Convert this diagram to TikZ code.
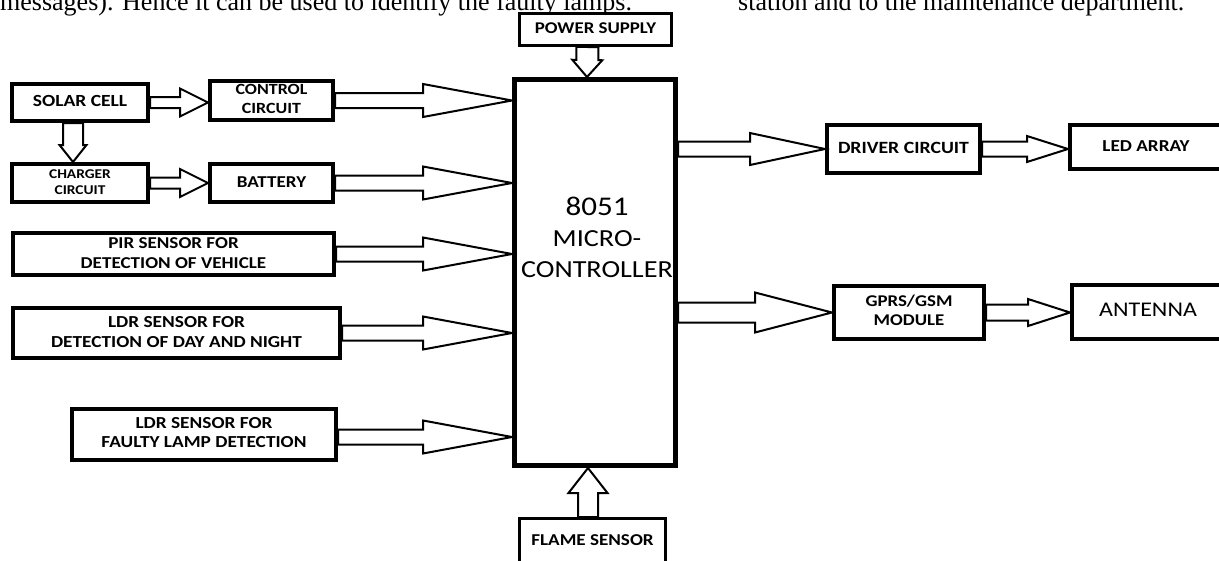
\documentclass[tikz,border=0pt]{standalone}
\usepackage{fontspec}
\usepackage{graphicx}
\usetikzlibrary{calc}
\newfontfamily\lblfont{Carlito}
\newfontfamily\refserif{Liberation Serif}
\newcommand\lbl[3]{\scalebox{1.15}[1]{\lblfont\bfseries\fontsize{#1}{#2}\selectfont\begin{tabular}{@{}c@{}}#3\end{tabular}}}
\newcommand\lblreg[3]{\scalebox{1.15}[1]{\lblfont\fontsize{#1}{#2}\selectfont\begin{tabular}{@{}c@{}}#3\end{tabular}}}
\newcommand\barrow[5]{%
  \path (#1) coordinate (bA) (#2) coordinate (bB);
  \path ($(bB)!#3!(bA)$) coordinate (bH);
  \draw[blockarr] ($(bA)!#4!90:(bB)$) -- ($(bH)!#4!-90:(bA)$) -- ($(bH)!#5!-90:(bA)$) -- (bB)
    -- ($(bH)!#5!90:(bA)$) -- ($(bH)!#4!90:(bA)$) -- ($(bA)!#4!-90:(bB)$) -- cycle;
}
\tikzset{
  blk/.style={draw, line width=4pt, fill=white, inner sep=0pt},
  thinblk/.style={draw, line width=3pt, fill=white, inner sep=0pt},
  blockarr/.style={draw, line width=2pt, fill=white, line join=miter},
  reftext/.style={inner sep=0pt, anchor=base west, font=\refserif\fontsize{26}{30}\selectfont},
}
\begin{document}
\begin{tikzpicture}[x=1pt, y=-1pt]
\useasboundingbox (0,0) rectangle (1219,560);
\clip (0,0) rectangle (1219,560);
\fill[white] (0,0) rectangle (1219,560);

\node[reftext] (t1) at (0,10) {messages). Hence it can be used to identify the faulty lamps.};
\node[reftext] (t2) at (738,10) {station and to the maintenance department.};

% left column
\node[blk, minimum width=136, minimum height=37] (solar) at (80,102.5) {\lbl{17}{20}{SOLAR CELL}};
\node[blk, minimum width=123, minimum height=39] (control) at (271.5,100.5) {\lbl{15.6}{19}{CONTROL\\CIRCUIT}};
\node[blk, minimum width=136, minimum height=38] (charger) at (80,183) {\lbl{13.4}{16}{CHARGER\\CIRCUIT}};
\node[blk, minimum width=123, minimum height=38] (battery) at (271.5,183) {\lbl{16.6}{20}{BATTERY}};
\node[blk, minimum width=321, minimum height=42] (pir) at (173.5,254) {\lbl{16.6}{20}{PIR SENSOR FOR\\DETECTION OF VEHICLE}};
\node[blk, minimum width=327, minimum height=50] (ldra) at (176.5,333) {\lbl{16.8}{20}{LDR SENSOR FOR\\DETECTION OF DAY AND NIGHT}};
\node[blk, minimum width=264, minimum height=51] (ldrb) at (204,434.5) {\lbl{16.8}{19}{LDR SENSOR FOR\\FAULTY LAMP DETECTION}};

% centre
\node[draw, line width=5pt, fill=white, inner sep=0pt, minimum width=161, minimum height=386] (mcu) at (595,272.5) {};
\node[inner sep=0pt] (mcutext) at (597,240) {\lblreg{24.5}{31}{\fontsize{27}{31}\selectfont 8051\\MICRO-\\CONTROLLER}};
\node[thinblk, minimum width=152, minimum height=32] (power) at (595.5,29.5) {\lbl{16.4}{20}{POWER SUPPLY}};
\node[thinblk, minimum width=146, minimum height=45] (flame) at (592.5,541) {\lbl{16.6}{20}{FLAME SENSOR}};

% right
\node[blk, minimum width=153, minimum height=48] (driver) at (903.5,149) {\lbl{17.2}{20}{DRIVER CIRCUIT}};
\node[blk, minimum width=152, minimum height=44] (led) at (1146,147) {\lbl{16.7}{20}{LED ARRAY}};
\node[blk, minimum width=150, minimum height=53] (gprs) at (909,312.5) {\lbl{16.4}{19}{GPRS/GSM\\MODULE}};
\node[blk, minimum width=152, minimum height=54] (antenna) at (1148,312) {\lblreg{20.9}{24}{ANTENNA}};

\coordinate (ldrbo) at ([yshift=-2.5pt]ldrb.east);

% block arrows
\barrow{solar.east}{control.west |- solar.east}{28pt}{5.5pt}{14pt}
\barrow{charger.east}{battery.west |- charger.east}{28pt}{5.5pt}{14pt}
\barrow{[xshift=-7pt]solar.south}{[xshift=-7pt]charger.north}{17pt}{10pt}{13.5pt}
\barrow{[xshift=-8pt]power.south}{[xshift=-8pt]mcu.north}{17pt}{11pt}{15pt}
\barrow{control.east}{mcu.west |- control.east}{89pt}{7.5pt}{16.5pt}
\barrow{battery.east}{mcu.west |- battery.east}{89pt}{7.5pt}{16.5pt}
\barrow{pir.east}{mcu.west |- pir.east}{89pt}{7.5pt}{16.5pt}
\barrow{ldra.east}{mcu.west |- ldra.east}{89pt}{7.5pt}{16.5pt}
\barrow{ldrbo}{mcu.west |- ldrbo}{89pt}{7.5pt}{16.5pt}
\barrow{[xshift=-4.5pt]flame.north}{[xshift=-7pt]mcu.south}{25pt}{10pt}{19.5pt}
\barrow{mcu.east |- driver.west}{driver.west}{75pt}{7.5pt}{16pt}
\barrow{mcu.east |- gprs.west}{gprs.west}{77pt}{10pt}{20pt}
\barrow{driver.east}{led.west |- driver.east}{41pt}{7.5pt}{13pt}
\barrow{gprs.east}{antenna.west |- gprs.east}{42pt}{8pt}{13.5pt}
\end{tikzpicture}
\end{document}
